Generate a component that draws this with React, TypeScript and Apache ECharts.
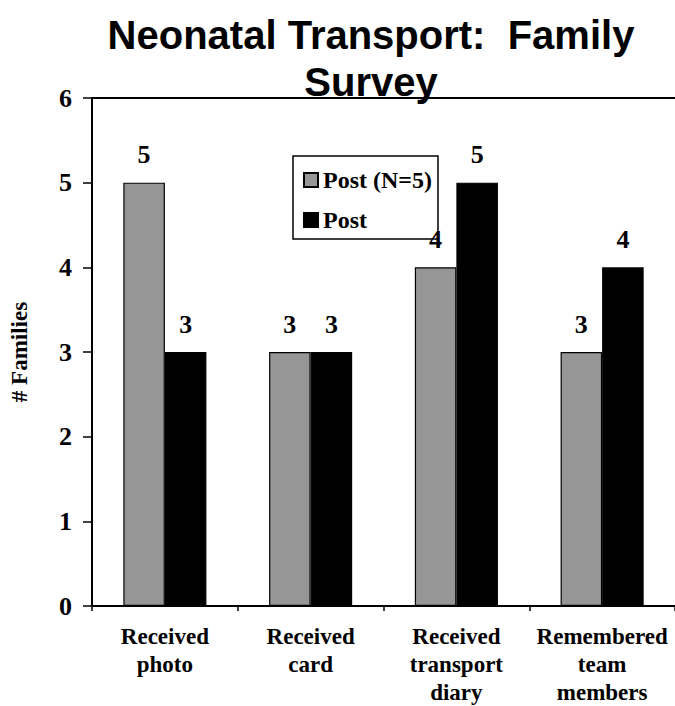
import React, { useEffect, useRef } from "react";
import * as echarts from "echarts";

const categories = [
  "Received\nphoto",
  "Received\ncard",
  "Received\ntransport\ndiary",
  "Remembered\nteam\nmembers",
];
const seriesNames = ["Post (N=5)", "Post"];
const postN5 = [5, 3, 4, 3];
const post = [3, 3, 5, 4];
const yTicks = { min: 0, max: 6, interval: 1 };
const titleText = "Neonatal Transport:  Family\nSurvey";
const yAxisName = "# Families";

const SERIF = "'Liberation Serif', 'Times New Roman', serif";

export default function App() {
  const ref = useRef<HTMLDivElement>(null);
  useEffect(() => {
    if (!ref.current) return;
    const chart = echarts.init(ref.current, undefined, { renderer: "svg" });
    const labelStyle = {
      show: true,
      position: "top",
      distance: 15,
      color: "#000",
      fontFamily: SERIF,
      fontWeight: "bold",
      fontSize: 26,
      lineHeight: 26,
    };
    chart.setOption({
      animation: false,
      backgroundColor: "#fff",
      title: {
        text: titleText,
        left: 371,
        top: 11,
        padding: 0,
        textAlign: "center",
        textStyle: {
          fontFamily: "'Liberation Sans', Arial, sans-serif",
          fontWeight: "bold",
          fontSize: 40,
          lineHeight: 47,
          color: "#000",
        },
      },
      legend: {
        orient: "vertical",
        left: 293,
        top: 156,
        padding: [12, 6, 7, 10],
        borderColor: "#000",
        borderWidth: 1.5,
        itemWidth: 14,
        itemHeight: 14,
        itemGap: 16,
        icon: "rect",
        textStyle: {
          fontFamily: SERIF,
          fontWeight: "bold",
          fontSize: 24,
          lineHeight: 24,
          color: "#000",
        },
        data: seriesNames,
      },
      grid: {
        left: 84,
        top: 98,
        width: 595,
        height: 514,
        show: false,
      },
      xAxis: [
        {
          type: "category",
          data: categories,
          boundaryGap: true,
          axisLine: { lineStyle: { color: "#000", width: 2 } },
          axisTick: { show: true, length: 5, lineStyle: { color: "#000", width: 1.5 } },
          splitLine: { show: false },
          axisLabel: {
            interval: 0,
            margin: 16,
            color: "#000",
            fontFamily: SERIF,
            fontWeight: "bold",
            fontSize: 23,
            lineHeight: 28,
          },
        },
        {
          type: "category",
          data: categories,
          position: "top",
          axisLine: { show: true, lineStyle: { color: "#000", width: 2 } },
          axisTick: { show: false },
          splitLine: { show: false },
          axisLabel: { show: false },
        },
      ],
      yAxis: {
        type: "value",
        min: yTicks.min,
        max: yTicks.max,
        interval: yTicks.interval,
        name: yAxisName,
        nameLocation: "middle",
        nameGap: 61,
        nameTextStyle: {
          fontFamily: SERIF,
          fontWeight: "bold",
          fontSize: 23,
          color: "#000",
        },
        axisLine: { show: true, lineStyle: { color: "#000", width: 2 } },
        axisTick: { show: true, length: 9, lineStyle: { color: "#000", width: 1.5 } },
        splitLine: { show: false },
        axisLabel: {
          margin: 20,
          color: "#000",
          fontFamily: SERIF,
          fontWeight: "bold",
          fontSize: 26,
        },
      },
      series: [
        {
          name: seriesNames[0],
          type: "bar",
          data: postN5,
          barGap: "0%",
          barCategoryGap: "43%",
          itemStyle: { color: "#969696", borderColor: "#000", borderWidth: 1.2 },
          label: labelStyle,
        },
        {
          name: seriesNames[1],
          type: "bar",
          data: post,
          barGap: "0%",
          barCategoryGap: "43%",
          itemStyle: { color: "#000", borderColor: "#000", borderWidth: 1.2 },
          label: labelStyle,
        },
      ],
    });
    return () => chart.dispose();
  }, []);
  return (
    <div
      ref={ref}
      style={{
        position: "absolute",
        left: 0,
        top: 0,
        width: 675,
        height: 706,
        overflow: "hidden",
      }}
    />
  );
}
